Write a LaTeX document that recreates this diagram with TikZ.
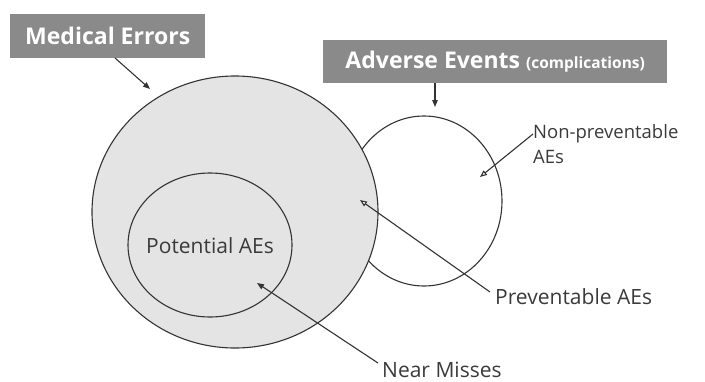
\documentclass[tikz,border=0pt]{standalone}
\usepackage{fontspec}
\setmainfont{Open Sans}
\usetikzlibrary{arrows.meta,shapes.geometric}
\definecolor{boxgray}{HTML}{8A8A8A}
\definecolor{fillgray}{HTML}{E4E4E4}
\definecolor{ink}{HTML}{333333}
\definecolor{txt}{HTML}{3A3A3A}
\begin{document}
\begin{tikzpicture}[x=1pt,y=-1pt,
  hdr/.style={fill=boxgray,text=white,font=\fontsize{23}{26}\selectfont\bfseries,inner sep=0pt,anchor=north west},
  lab/.style={text=txt,font=\fontsize{21}{25}\selectfont,inner sep=0pt},
  circ/.style={ellipse,draw=ink,line width=1.1pt,inner sep=0pt},
  farr/.style={draw=ink,line width=1.1pt,-{Triangle[length=7pt,width=5.5pt]}},
  oarr/.style={draw=ink,line width=1.1pt,-{Triangle[open,length=7pt,width=5.5pt,fill=white]}}]
\useasboundingbox (0,0) rectangle (705,381);
% circles
\node[circ,fill=white,minimum width=156pt,minimum height=170pt] (ae) at (424,201) {};
\node[circ,fill=fillgray,minimum width=286pt,minimum height=272pt] (me) at (235,212) {};
\node[circ,fill=fillgray,minimum width=164pt,minimum height=144pt] (pot) at (210,245) {};
% headers
\node[hdr,minimum width=195pt,minimum height=44pt] (meh) at (10,14) {Medical Errors};
\node[hdr,minimum width=344pt,minimum height=43pt] (aeh) at (323,40) {Adverse Events {\fontsize{15.5}{18}\selectfont(complications)}};
% labels
\node[lab] (potl) at (210,246) {Potential AEs};
\node[lab,align=left,anchor=north west,font=\fontsize{18.5}{25}\selectfont] (npl) at (533,124) {Non-preventable\\AEs};
\node[lab,anchor=west] (pl) at (495,297) {Preventable AEs};
\node[lab,anchor=base west] (nm) at (382,377) {Near Misses};
% arrow anchors
\coordinate (meS) at (115,58);
\coordinate (meE) at (150,89);
\coordinate (aeS) at (435,83);
\coordinate (aeE) at (435,107);
\coordinate (npS) at (533,134);
\coordinate (npE) at (480,177);
\coordinate (pS) at (490,292);
\coordinate (pE) at (360,200);
\coordinate (nmS) at (378,363);
\coordinate (nmE) at (257,283);
\draw[farr] (meS) -- (meE);
\draw[farr] (aeS) -- (aeE);
\draw[oarr] (npS) -- (npE);
\draw[oarr] (pS) -- (pE);
\draw[farr] (nmS) -- (nmE);
\end{tikzpicture}
\end{document}
